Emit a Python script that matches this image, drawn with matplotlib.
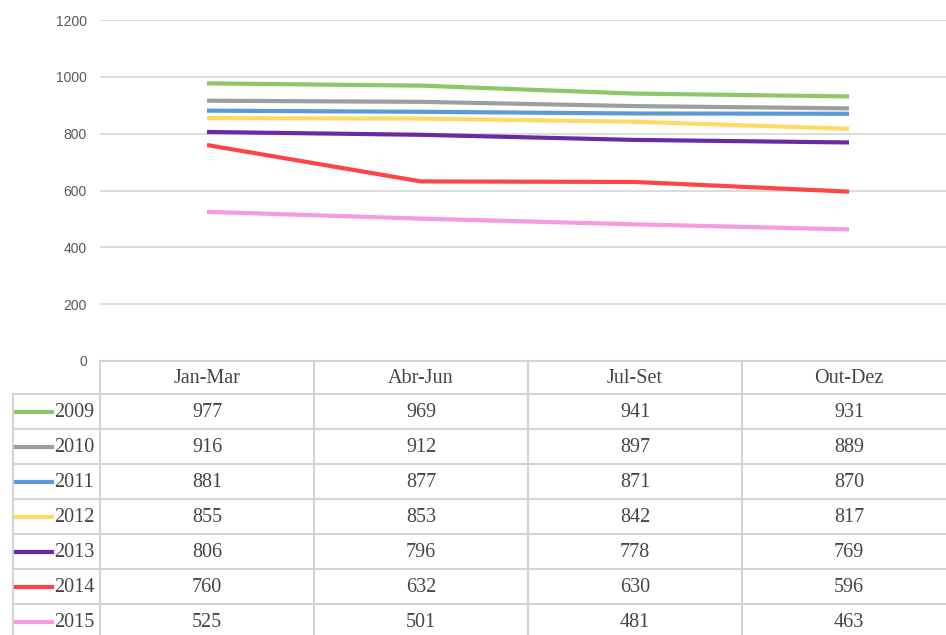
import numpy as np
import matplotlib.pyplot as plt
from matplotlib.lines import Line2D

quarters = ["Jan-Mar", "Abr-Jun", "Jul-Set", "Out-Dez"]
years = ["2009", "2010", "2011", "2012", "2013", "2014", "2015"]
v2009 = [977, 969, 941, 931]
v2010 = [916, 912, 897, 889]
v2011 = [881, 877, 871, 870]
v2012 = [855, 853, 842, 817]
v2013 = [806, 796, 778, 769]
v2014 = [760, 632, 630, 596]
v2015 = [525, 501, 481, 463]
series = [v2009, v2010, v2011, v2012, v2013, v2014, v2015]
colors = ["#8cc86a", "#9e9e9e", "#5b9bd5", "#ffd966", "#6a2ba0", "#ff4444", "#f59be0"]
yticks = [0, 200, 400, 600, 800, 1000, 1200]

W, H = 946, 635
fig = plt.figure(figsize=(W / 100, H / 100), dpi=100)

# plot area in pixels
left, right, top, bottom = 100, 946, 20, 361
colw = 214.0
ax = fig.add_axes([left / W, 1 - bottom / H, (right - left) / W, (bottom - top) / H])
ax.set_xlim(-0.5, -0.5 + (right - left) / colw)
ax.set_ylim(0, 1200)
ax.set_yticks(yticks)
ax.set_xticks([])
ax.grid(axis="y", color="#d9d9d9", linewidth=1.3)
ax.set_axisbelow(True)
for s in ax.spines.values():
    s.set_visible(False)
ax.tick_params(axis="y", length=0, pad=9.5, labelsize=10, labelcolor="#595959")
for lab in ax.get_yticklabels():
    lab.set_fontfamily("Liberation Sans")

x = np.arange(len(quarters))
for vals, c in zip(series, colors):
    ax.plot(x, vals, color=c, linewidth=3.0, solid_capstyle="butt")

# data table drawn on an overlay in pixel coordinates
ov = fig.add_axes([0, 0, 1, 1])
ov.set_xlim(0, W)
ov.set_ylim(H, 0)
ov.axis("off")
ov.patch.set_alpha(0)

gc = "#d4d4d4"
hdr_top, hdr_bot = 361, 394
rowh = 35.0
lab_left = 13
col_edges = [left + i * colw for i in range(5)]
row_edges = [hdr_bot + i * rowh for i in range(len(years) + 1)]

ov.add_line(Line2D([left, W], [hdr_top, hdr_top], color=gc, lw=1.5))
for yy in row_edges:
    ov.add_line(Line2D([lab_left, W], [yy, yy], color=gc, lw=1.5))
ov.add_line(Line2D([lab_left, lab_left], [hdr_bot, H], color=gc, lw=1.5))
for xx in col_edges:
    ov.add_line(Line2D([xx, xx], [hdr_top, H], color=gc, lw=1.5))

tc = "#454545"
font = dict(family="Liberation Serif", size=14.5, color=tc, ha="center", va="center")
for j, q in enumerate(quarters):
    ov.text(left + (j + 0.5) * colw, (hdr_top + hdr_bot) / 2 + 1, q, **font)
for i, (yr, vals, c) in enumerate(zip(years, series, colors)):
    yc = hdr_bot + (i + 0.5) * rowh
    ov.add_line(Line2D([16, 52], [yc, yc], color=c, lw=3.0))
    ov.text(74, yc + 1, yr, **font)
    for j, v in enumerate(vals):
        ov.text(left + (j + 0.5) * colw, yc + 1, str(v), **font)

fig.savefig("out.png", dpi=100)
